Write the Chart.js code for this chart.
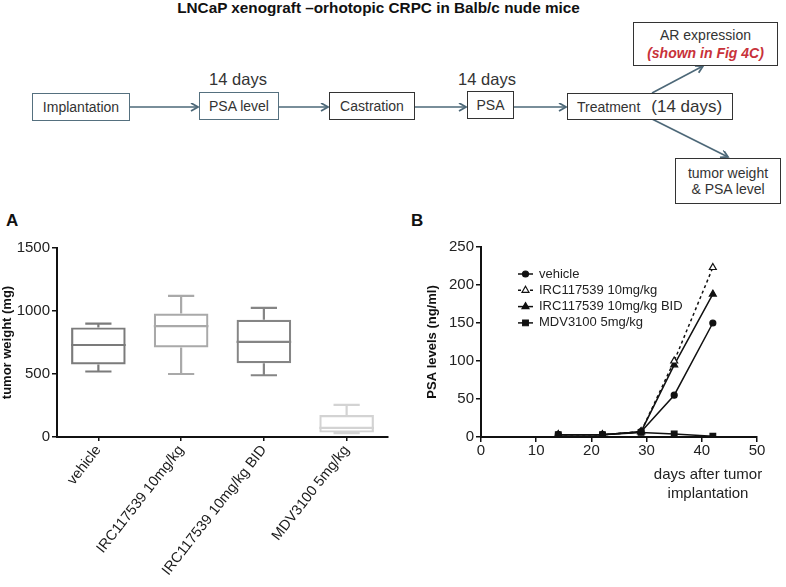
<!DOCTYPE html>
<html>
<head>
<meta charset="utf-8">
<script src="https://cdn.jsdelivr.net/npm/chart.js@4.4.0/dist/chart.umd.min.js"></script>
<style>
  body { margin: 0; width: 786px; height: 587px; position: relative; background: #fff; overflow: hidden;
         font-family: "Liberation Sans", Arial, sans-serif; color: #222; }
  .abs { position: absolute; }
  .box { position: absolute; box-sizing: border-box; border: 1.5px solid #333; background: #fff;
         display: flex; align-items: center; justify-content: center; font-size: 14px; color: #333; }
  .blue { border-color: #55707f; }
  .days { position: absolute; font-size: 16.5px; color: #333; transform: translateX(-50%); }
  .panel { position: absolute; font-weight: bold; font-size: 17px; color: #111; }
  #title { position: absolute; left: 0; width: 757px; top: -1px; text-align: center; font-weight: bold; font-size: 15.3px; color: #111; }
  canvas { position: absolute; }
</style>
</head>
<body>
<div id="title">LNCaP xenograft –orhotopic CRPC in Balb/c nude mice</div>

<svg class="abs" style="left:0;top:0" width="786" height="210">
  <defs>
    <marker id="head" markerWidth="10" markerHeight="10" refX="8" refY="4" orient="auto" markerUnits="userSpaceOnUse">
      <path d="M1,0 L8,4 L1,8" fill="none" stroke="#4d6878" stroke-width="1.8"/>
    </marker>
  </defs>
  <g stroke="#4d6878" stroke-width="1.6" fill="none" marker-end="url(#head)">
    <line x1="130" y1="107" x2="198" y2="107"/>
    <line x1="279" y1="107" x2="328" y2="107"/>
    <line x1="414" y1="107" x2="466" y2="107"/>
    <line x1="513" y1="107" x2="566" y2="107"/>
    <line x1="652" y1="93" x2="703" y2="66"/>
    <line x1="652" y1="119" x2="728" y2="157"/>
  </g>
</svg>

<div class="box blue" style="left:32px;top:93px;width:98px;height:28px">Implantation</div>
<div class="days" style="left:238px;top:70px">14 days</div>
<div class="box blue" style="left:199px;top:92px;width:80px;height:28px">PSA level</div>
<div class="box" style="left:329px;top:92px;width:86px;height:28px">Castration</div>
<div class="days" style="left:487px;top:70px">14 days</div>
<div class="box" style="left:467px;top:91px;width:47px;height:28px">PSA</div>
<div class="box" style="left:567px;top:93px;width:166px;height:27px;justify-content:flex-start;padding-left:9px">
  Treatment<span style="font-size:17px;margin-left:11px">(14 days)</span></div>
<div class="box" style="left:633px;top:22px;width:145px;height:44px;flex-direction:column;line-height:18px">
  <span>AR expression</span>
  <span style="color:#c8323a;font-weight:bold;font-style:italic">(shown in Fig 4C)</span></div>
<div class="box" style="left:675px;top:158px;width:106px;height:46px;flex-direction:column;line-height:16px">
  <span>tumor weight</span><span>&amp; PSA level</span></div>

<div class="panel" style="left:6px;top:211px">A</div>
<div class="panel" style="left:411px;top:211px">B</div>

<canvas id="weightChart" style="left:0;top:230px" width="400" height="357"></canvas>
<canvas id="psaChart" style="left:420px;top:230px" width="366" height="357"></canvas>

<div class="abs" style="left:640px;top:464px;width:136px;text-align:center;font-size:15px;line-height:19px;color:#222">days after tumor<br>implantation</div>

<script>
// tumor weight box plot (panel A)
const groups = ['vehicle', 'IRC117539 10mg/kg', 'IRC117539 10mg/kg BID', 'MDV3100 5mg/kg'];
const weightMin = [520, 500, 490, 30];
const weightQ1 = [575, 710, 585, 35];
const weightMedian = [730, 880, 755, 72];
const weightQ3 = [870, 980, 930, 175];
const weightMax = [900, 1120, 1025, 255];
const weightTicks = [0, 500, 1000, 1500];
const boxColors = ['#7b7b7b', '#a9a9a9', '#858585', '#d3d3d3'];

// PSA levels over time (panel B)
const days = [14, 22, 29, 35, 42];
const psaVehicle = [3, 3, 7, 55, 150];
const psaIrc = [3, 3, 7, 100, 223];
const psaIrcBid = [3, 3, 7, 95, 188];
const psaMdv = [3, 3, 6, 4, 1];
const psaTicks = [0, 50, 100, 150, 200, 250];
const dayTicks = [0, 10, 20, 30, 40, 50];

const FONT = "'Liberation Sans', Arial, sans-serif";

const whiskerPlugin = {
  id: 'whiskers',
  afterDatasetsDraw(chart) {
    const { ctx, scales: { y } } = chart;
    const meta = chart.getDatasetMeta(0);
    meta.data.forEach((bar, i) => {
      const half = bar.width / 2;
      const cap = bar.width * 0.24;
      const yMed = y.getPixelForValue(weightMedian[i]);
      const yQ1 = y.getPixelForValue(weightQ1[i]);
      const yQ3 = y.getPixelForValue(weightQ3[i]);
      const yMin = y.getPixelForValue(weightMin[i]);
      const yMax = y.getPixelForValue(weightMax[i]);
      ctx.save();
      ctx.strokeStyle = boxColors[i];
      ctx.lineWidth = 2.2;
      ctx.beginPath();
      ctx.moveTo(bar.x - half, yMed); ctx.lineTo(bar.x + half, yMed);
      ctx.moveTo(bar.x, yQ3); ctx.lineTo(bar.x, yMax);
      ctx.moveTo(bar.x - cap, yMax); ctx.lineTo(bar.x + cap, yMax);
      ctx.moveTo(bar.x, yQ1); ctx.lineTo(bar.x, yMin);
      ctx.moveTo(bar.x - cap, yMin); ctx.lineTo(bar.x + cap, yMin);
      ctx.stroke();
      ctx.restore();
    });
  }
};

new Chart(document.getElementById('weightChart'), {
  type: 'bar',
  data: {
    labels: groups,
    datasets: [{
      data: groups.map((g, i) => [weightQ1[i], weightQ3[i]]),
      backgroundColor: 'rgba(255,255,255,0)',
      borderColor: boxColors,
      borderWidth: 2.2,
      borderSkipped: false,
      barPercentage: 0.66,
      categoryPercentage: 1,
    }],
  },
  options: {
    responsive: false,
    animation: false,
    layout: { padding: { top: 18, right: 12, left: 0, bottom: 0 } },
    plugins: { legend: { display: false }, tooltip: { enabled: false } },
    scales: {
      x: {
        grid: { display: true, drawOnChartArea: false, drawTicks: true, tickLength: 4, color: '#111', lineWidth: 1.5, offset: false },
        border: { display: true, color: '#111', width: 2 },
        ticks: { color: '#1a1a1a', font: { family: FONT, size: 14.5 }, minRotation: 52, maxRotation: 52, padding: 1, labelOffset: 0 },
        afterFit: s => { s.height = 150; },
      },
      y: {
        min: 0, max: 1500,
        afterBuildTicks: s => { s.ticks = weightTicks.map(v => ({ value: v })); },
        grid: { display: true, drawOnChartArea: false, drawTicks: true, tickLength: 5, color: '#111', lineWidth: 1.5 },
        border: { display: true, color: '#111', width: 2 },
        ticks: { color: '#222', font: { family: FONT, size: 15 }, padding: 2, callback: v => String(v) },
        title: { display: true, text: 'tumor weight (mg)', color: '#111', font: { family: FONT, size: 13, weight: 'bold' }, padding: 0 },
        afterFit: s => { s.width = 57; },
      },
    },
  },
  plugins: [whiskerPlugin],
});

const lineLegend = {
  id: 'lineLegend',
  afterDraw(chart) {
    const { ctx, chartArea } = chart;
    const x0 = chartArea.left + 37;
    ctx.save();
    chart.data.datasets.forEach((ds, i) => {
      const yy = chartArea.top + 27 + i * 16.3;
      ctx.strokeStyle = '#111';
      ctx.lineWidth = 1.5;
      ctx.setLineDash(ds.borderDash || []);
      ctx.beginPath(); ctx.moveTo(x0, yy); ctx.lineTo(x0 + 15, yy); ctx.stroke();
      ctx.setLineDash([]);
      ctx.fillStyle = ds.pointBackgroundColor;
      ctx.strokeStyle = '#111';
      ctx.lineWidth = 1.2;
      Chart.helpers.drawPoint(ctx, { pointStyle: ds.pointStyle, radius: ds.pointRadius, borderWidth: 1.2 }, x0 + 7.5, yy);
      ctx.fillStyle = '#222';
      ctx.font = '13px ' + FONT;
      ctx.textBaseline = 'middle';
      ctx.fillText(ds.label, x0 + 21, yy);
    });
    ctx.restore();
  }
};

function series(label, values, style, fill, radius, dash) {
  return {
    label,
    data: days.map((d, i) => ({ x: d, y: values[i] })),
    borderColor: '#111',
    borderWidth: 1.5,
    borderDash: dash,
    pointStyle: style,
    pointRadius: radius,
    pointBackgroundColor: fill,
    pointBorderColor: '#111',
    pointBorderWidth: 1.2,
    tension: 0,
  };
}

new Chart(document.getElementById('psaChart'), {
  type: 'line',
  data: {
    datasets: [
      series('vehicle', psaVehicle, 'circle', '#111', 3, []),
      series('IRC117539 10mg/kg', psaIrc, 'triangle', '#fff', 4, [3, 3]),
      series('IRC117539 10mg/kg BID', psaIrcBid, 'triangle', '#111', 4, []),
      series('MDV3100 5mg/kg', psaMdv, 'rect', '#111', 4, []),
    ],
  },
  options: {
    responsive: false,
    animation: false,
    layout: { padding: { top: 17, right: 29, left: 5, bottom: 0 } },
    plugins: { legend: { display: false }, tooltip: { enabled: false } },
    scales: {
      x: {
        type: 'linear', min: 0, max: 50,
        afterBuildTicks: s => { s.ticks = dayTicks.map(v => ({ value: v })); },
        grid: { display: true, drawOnChartArea: false, drawTicks: true, tickLength: 5, color: '#111', lineWidth: 1.5 },
        border: { display: true, color: '#111', width: 2 },
        ticks: { color: '#222', font: { family: FONT, size: 15 }, padding: 0 },
        afterFit: s => { s.height = 150; },
      },
      y: {
        min: 0, max: 250,
        afterBuildTicks: s => { s.ticks = psaTicks.map(v => ({ value: v })); },
        grid: { display: true, drawOnChartArea: false, drawTicks: true, tickLength: 5, color: '#111', lineWidth: 1.5 },
        border: { display: true, color: '#111', width: 2 },
        ticks: { color: '#222', font: { family: FONT, size: 15 }, padding: 2 },
        title: { display: true, text: 'PSA levels (ng/ml)', color: '#111', font: { family: FONT, size: 13, weight: 'bold' }, padding: 0 },
        afterFit: s => { s.width = 56; },
      },
    },
  },
  plugins: [lineLegend],
});
</script>
</body>
</html>
